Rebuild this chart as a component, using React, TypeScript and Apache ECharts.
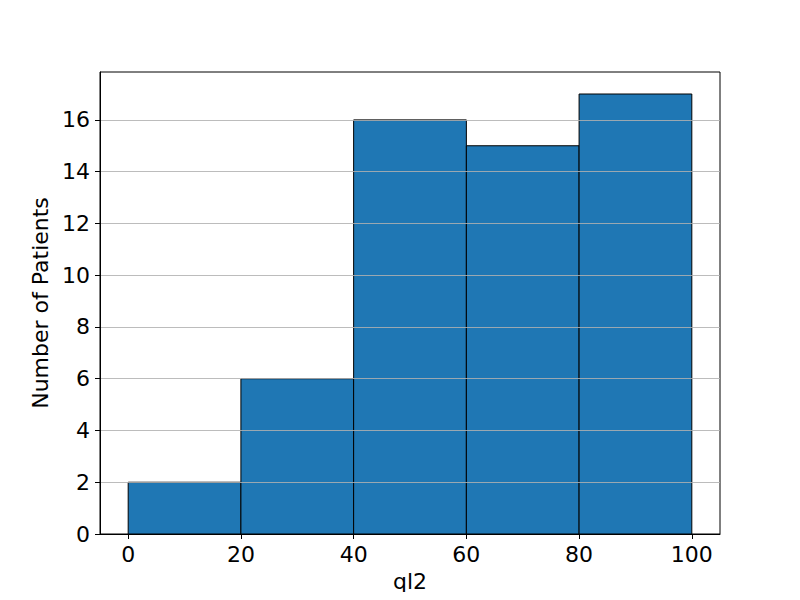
import React, { useEffect, useRef } from "react";
import * as echarts from "echarts";

const binStarts = [0, 20, 40, 60, 80];
const binEnds = [20, 40, 60, 80, 100];
const counts = [2, 6, 16, 15, 17];
const xTicks = [0, 20, 40, 60, 80, 100];
const yTicks = [0, 2, 4, 6, 8, 10, 12, 14, 16];

export default function App() {
  const ref = useRef<HTMLDivElement>(null);
  useEffect(() => {
    if (!ref.current) return;
    const chart = echarts.init(ref.current, null, { renderer: "svg" });
    const data = binStarts.map((s, i) => [s, binEnds[i], counts[i]]);
    const font = "DejaVu Sans";
    chart.setOption({
      animation: false,
      backgroundColor: "#ffffff",
      grid: {
        left: 100,
        top: 72,
        width: 620,
        height: 462,
        show: true,
        borderColor: "#000000",
        borderWidth: 1,
        backgroundColor: "transparent",
      },
      xAxis: {
        type: "value",
        min: -5,
        max: 105,
        name: "ql2",
        nameLocation: "middle",
        nameGap: 36,
        nameTextStyle: { fontFamily: font, fontSize: 22, color: "#000" },
        axisLine: { show: true, onZero: false, lineStyle: { color: "#000", width: 1 } },
        axisTick: {
          show: true,
          length: 5,
          customValues: xTicks,
          lineStyle: { color: "#000" },
        },
        axisLabel: {
          customValues: xTicks,
          margin: 9,
          fontFamily: font,
          fontSize: 22,
          color: "#000",
        },
        splitLine: { show: false },
        z: 10,
      },
      yAxis: {
        type: "value",
        min: 0,
        max: 17.85,
        interval: 2,
        name: "Number of Patients",
        nameLocation: "middle",
        nameGap: 48,
        nameTextStyle: { fontFamily: font, fontSize: 22, color: "#000" },
        axisLine: { show: true, onZero: false, lineStyle: { color: "#000", width: 1 } },
        axisTick: {
          show: true,
          length: 5,
          customValues: yTicks,
          lineStyle: { color: "#000" },
        },
        axisLabel: {
          customValues: yTicks,
          margin: 10,
          fontFamily: font,
          fontSize: 22,
          color: "#000",
        },
        splitLine: {
          show: true,
          lineStyle: { color: "#b0b0b0", width: 1, opacity: 0.85 },
        },
        z: 10,
      },
      series: [
        {
          type: "custom",
          data,
          encode: { x: [0, 1], y: 2 },
          z: 2,
          renderItem: (params: any, api: any) => {
            const p0 = api.coord([api.value(0), api.value(2)]);
            const p1 = api.coord([api.value(1), 0]);
            return {
              type: "rect",
              shape: {
                x: p0[0],
                y: p0[1],
                width: p1[0] - p0[0],
                height: p1[1] - p0[1],
              },
              style: { fill: "#1f77b4", stroke: "#000000", lineWidth: 1 },
            };
          },
        },
      ],
    });
    return () => chart.dispose();
  }, []);
  return <div ref={ref} style={{ width: 800, height: 600, margin: -8 }} />;
}
